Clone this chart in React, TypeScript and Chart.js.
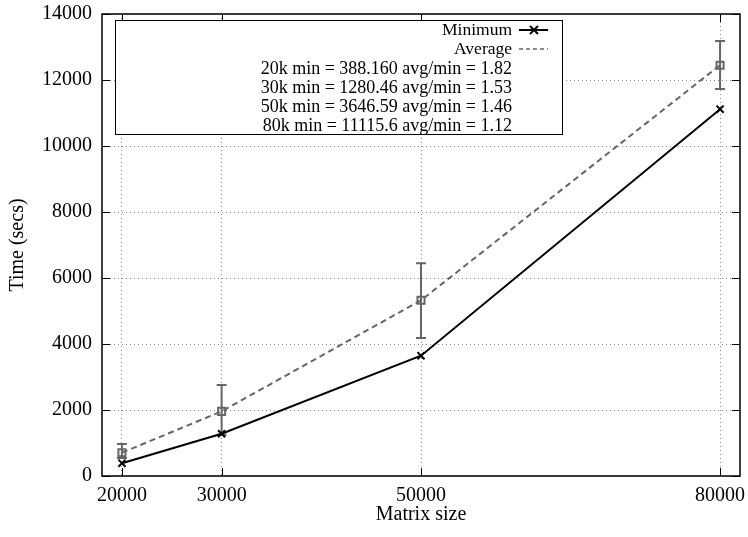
import React, { useEffect, useRef } from "react";
import { Chart, registerables } from "chart.js";

Chart.register(...registerables);

const matrixSizes = [20000, 30000, 50000, 80000];
const minimumTimes = [388.16, 1280.46, 3646.59, 11115.6];
const averageTimes = [706.5, 1959.1, 5324.0, 12449.5];
const errorLow = [545, 1250, 4180, 11730];
const errorHigh = [970, 2760, 6450, 13180];
const xTicks = [20000, 30000, 50000, 80000];
const statLines = [
  "20k min = 388.160 avg/min = 1.82",
  "30k min = 1280.46 avg/min = 1.53",
  "50k min = 3646.59 avg/min = 1.46",
  "80k min = 11115.6 avg/min = 1.12",
];

const FONT = "'Liberation Serif', 'Times New Roman', serif";
const GRAY = "#666666";

const framePlugin = {
  id: "frame",
  beforeDatasetsDraw(chart: any) {
    const { ctx, scales } = chart;
    ctx.save();
    const xs = scales.x, ys = scales.y;
    ctx.strokeStyle = GRAY;
    ctx.lineWidth = 2;
    matrixSizes.forEach((m, i) => {
      const px = xs.getPixelForValue(m);
      const pl = ys.getPixelForValue(errorLow[i]);
      const ph = ys.getPixelForValue(errorHigh[i]);
      ctx.beginPath();
      ctx.moveTo(px, pl);
      ctx.lineTo(px, ph);
      ctx.moveTo(px - 5, pl);
      ctx.lineTo(px + 5, pl);
      ctx.moveTo(px - 5, ph);
      ctx.lineTo(px + 5, ph);
      ctx.stroke();
    });
    ctx.restore();
  },
  afterDatasetsDraw(chart: any) {
    const { ctx, chartArea: a, scales } = chart;
    ctx.save();
    ctx.strokeStyle = "#000";
    ctx.lineWidth = 1.5;
    ctx.strokeRect(a.left, a.top, a.right - a.left, a.bottom - a.top);
    ctx.lineWidth = 1;
    const tl = 8;
    scales.y.ticks.forEach((t: any) => {
      const py = Math.round(scales.y.getPixelForValue(t.value)) + 0.5;
      ctx.beginPath();
      ctx.moveTo(a.left, py);
      ctx.lineTo(a.left + tl, py);
      ctx.moveTo(a.right, py);
      ctx.lineTo(a.right - tl, py);
      ctx.stroke();
    });
    scales.x.ticks.forEach((t: any) => {
      const px = Math.round(scales.x.getPixelForValue(t.value)) + 0.5;
      ctx.beginPath();
      ctx.moveTo(px, a.bottom);
      ctx.lineTo(px, a.bottom - tl);
      ctx.moveTo(px, a.top);
      ctx.lineTo(px, a.top + tl);
      ctx.stroke();
    });
    // legend box
    const bx = 115, by = 20, bw = 447, bh = 114;
    ctx.fillStyle = "#fff";
    ctx.fillRect(bx, by, bw, bh);
    ctx.strokeStyle = "#000";
    ctx.lineWidth = 1;
    ctx.strokeRect(bx + 0.5, by + 0.5, bw, bh);
    ctx.fillStyle = "#000";
    ctx.textAlign = "right";
    ctx.textBaseline = "middle";
    const tx = 512;
    const lineY = [30, 49, 69, 88, 107, 126];
    ctx.font = `17.5px ${FONT}`;
    ctx.fillText("Minimum", tx, lineY[0]);
    ctx.fillText("Average", tx, lineY[1]);
    ctx.font = `18px ${FONT}`;
    statLines.forEach((s, i) => ctx.fillText(s, tx, lineY[i + 2]));
    ctx.lineWidth = 2;
    ctx.strokeStyle = "#000";
    ctx.beginPath();
    ctx.moveTo(519, lineY[0]);
    ctx.lineTo(548, lineY[0]);
    ctx.stroke();
    ctx.beginPath();
    ctx.moveTo(530, lineY[0] - 4);
    ctx.lineTo(538, lineY[0] + 4);
    ctx.moveTo(530, lineY[0] + 4);
    ctx.lineTo(538, lineY[0] - 4);
    ctx.stroke();
    ctx.strokeStyle = GRAY;
    ctx.lineWidth = 1.5;
    ctx.setLineDash([4, 3]);
    ctx.beginPath();
    ctx.moveTo(519, lineY[1]);
    ctx.lineTo(548, lineY[1]);
    ctx.stroke();
    ctx.restore();
  },
};

export default function App() {
  const ref = useRef<HTMLCanvasElement>(null);
  useEffect(() => {
    const chart = new Chart(ref.current!, {
      type: "line",
      data: {
        datasets: [
          {
            label: "Average",
            data: matrixSizes.map((m, i) => ({ x: m, y: averageTimes[i] })),
            borderColor: GRAY,
            borderWidth: 2,
            borderDash: [6, 4],
            pointStyle: "rect",
            pointRadius: 5,
            pointBorderColor: GRAY,
            pointBackgroundColor: "rgba(255,255,255,0)",
            pointBorderWidth: 2,
            fill: false,
          },
          {
            label: "Minimum",
            data: matrixSizes.map((m, i) => ({ x: m, y: minimumTimes[i] })),
            borderColor: "#000",
            borderWidth: 2,
            pointStyle: "crossRot",
            pointRadius: 5,
            pointBorderColor: "#000",
            pointBorderWidth: 2,
            fill: false,
          },
        ],
      },
      options: {
        animation: false,
        responsive: false,
        layout: { padding: { top: 14, right: 8, left: 0, bottom: 0 } },
        plugins: { legend: { display: false }, tooltip: { enabled: false } },
        scales: {
          x: {
            type: "linear",
            min: 18000,
            max: 82000,
            afterBuildTicks: (s: any) => {
              s.ticks = xTicks.map((v) => ({ value: v }));
            },
            afterFit: (s: any) => {
              s.height = 61;
              s.paddingLeft = 0;
              s.paddingRight = 0;
            },
            ticks: {
              color: "#000",
              font: { family: FONT, size: 20 },
              padding: 8,
              maxRotation: 0,
              autoSkip: false,
              callback: (v: any) => String(v),
            },
            grid: { color: "#888", lineWidth: 1, drawTicks: false },
            border: { display: false, dash: [1, 3] },
            title: {
              display: true,
              text: "Matrix size",
              color: "#000",
              font: { family: FONT, size: 20 },
              padding: { top: 0, bottom: 10 },
            },
          },
          y: {
            type: "linear",
            min: 0,
            max: 14000,
            afterFit: (s: any) => {
              s.width = 102;
              s.paddingTop = 0;
              s.paddingBottom = 0;
            },
            ticks: {
              stepSize: 2000,
              color: "#000",
              font: { family: FONT, size: 20 },
              padding: 10,
              callback: (v: any) => String(v),
            },
            grid: { color: "#888", lineWidth: 1, drawTicks: false },
            border: { display: false, dash: [1, 3] },
            title: {
              display: true,
              text: "Time (secs)",
              color: "#000",
              font: { family: FONT, size: 20 },
              padding: { top: 6, bottom: 0 },
            },
          },
        },
      },
      plugins: [framePlugin],
    });
    return () => chart.destroy();
  }, []);
  return (
    <div style={{ position: "fixed", left: 0, top: 0, width: 748, height: 537, background: "#fff" }}>
      <canvas ref={ref} width={748} height={537} />
    </div>
  );
}
